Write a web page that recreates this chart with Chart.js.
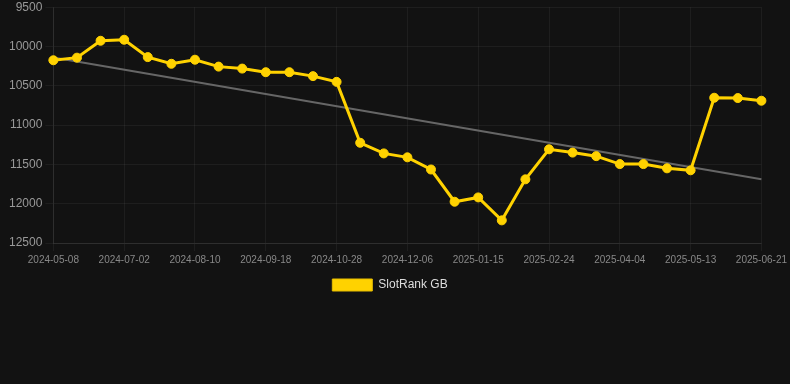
<!DOCTYPE html>
<html>
<head>
<meta charset="utf-8">
<script src="https://cdn.jsdelivr.net/npm/chart.js@4/dist/chart.umd.min.js"></script>
<style>
  html, body { margin: 0; padding: 0; background: #121212; overflow: hidden; }
  #wrap { width: 790px; height: 304px; position: relative; margin-top: -3px; }
</style>
</head>
<body>
<div id="wrap"><canvas id="c"></canvas></div>
<script>
const dates = [
  "2024-05-08","2024-05-26","2024-06-13","2024-07-02","2024-07-15","2024-07-28",
  "2024-08-10","2024-08-23","2024-09-05","2024-09-18","2024-10-01","2024-10-14",
  "2024-10-28","2024-11-10","2024-11-23","2024-12-06","2024-12-19","2025-01-02",
  "2025-01-15","2025-01-28","2025-02-11","2025-02-24","2025-03-09","2025-03-22",
  "2025-04-04","2025-04-17","2025-04-30","2025-05-13","2025-05-26","2025-06-08",
  "2025-06-21"
];
const slotRankGB = [
  10175, 10142, 9927, 9914, 10135, 10220,
  10168, 10256, 10281, 10327, 10327, 10377,
  10450, 11225, 11360, 11410, 11565, 11975,
  11920, 12212, 11690, 11308, 11350, 11395,
  11496, 11496, 11550, 11575, 10652, 10656,
  10690
];
const trendStart = 10140;
const trendEnd = 11690;
const yTicks = [9500, 10000, 10500, 11000, 11500, 12000, 12500];

const trend = dates.map((d, i) => i === 0 ? trendStart : (i === dates.length - 1 ? trendEnd : null));
const GRID = 'rgba(255,255,255,0.05)';

new Chart(document.getElementById('c'), {
  type: 'line',
  data: {
    labels: dates,
    datasets: [
      {
        label: 'SlotRank GB',
        data: slotRankGB,
        borderColor: '#FFD200',
        backgroundColor: '#FFD200',
        borderWidth: 3,
        pointRadius: 4.5,
        pointHoverRadius: 4.5,
        pointBorderWidth: 1,
        pointBackgroundColor: '#FFD200',
        pointBorderColor: '#FFD200',
        tension: 0,
        order: 1
      },
      {
        label: 'trend',
        data: trend,
        spanGaps: true,
        borderColor: '#666666',
        borderWidth: 2,
        pointRadius: 0,
        fill: false,
        order: 2
      }
    ]
  },
  options: {
    responsive: true,
    maintainAspectRatio: false,
    animation: false,
    layout: { padding: { left: 6, right: 16, top: 0, bottom: 0 } },
    plugins: {
      legend: {
        position: 'bottom',
        labels: {
          color: '#dddddd',
          font: { family: 'Liberation Sans, Arial, sans-serif', size: 12 },
          boxWidth: 40,
          boxHeight: 12,
          generateLabels: (chart) => Chart.defaults.plugins.legend.labels.generateLabels(chart)
            .filter(l => l.text !== 'trend')
            .map(l => Object.assign(l, { lineWidth: 1, strokeStyle: '#E6BD00' }))
        }
      },
      tooltip: { enabled: false }
    },
    scales: {
      x: {
        offset: false,
        grid: {
          color: (ctx) => (ctx.index % 3 === 0 ? GRID : 'rgba(0,0,0,0)'),
          tickLength: 8
        },
        border: { color: 'rgba(255,255,255,0.08)' },
        ticks: {
          color: '#888888',
          font: { family: 'Liberation Sans, Arial, sans-serif', size: 10 },
          autoSkip: false,
          maxRotation: 0,
          minRotation: 0,
          callback: function(val, idx) { return idx % 3 === 0 ? dates[idx] : ''; }
        }
      },
      y: {
        reverse: true,
        min: yTicks[0],
        max: yTicks[yTicks.length - 1],
        afterBuildTicks: (s) => { s.ticks = yTicks.map(v => ({ value: v })); },
        grid: { color: GRID, tickLength: 8 },
        border: { color: 'rgba(255,255,255,0.08)' },
        ticks: {
          color: '#999999',
          font: { family: 'Liberation Sans, Arial, sans-serif', size: 12 },
          callback: (v) => String(v)
        }
      }
    }
  }
});
</script>
</body>
</html>
